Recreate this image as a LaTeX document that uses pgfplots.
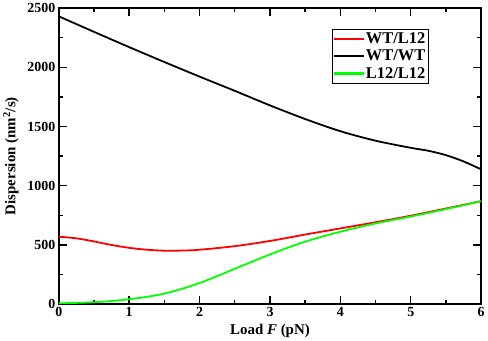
\documentclass[border=0pt]{standalone}
\usepackage{fontspec}
\setmainfont{Liberation Serif}
\usepackage{pgfplots}
\pgfplotsset{compat=1.18}
\definecolor{cRed}{RGB}{255,0,0}
\definecolor{cGreen}{RGB}{0,255,0}
\begin{document}
\begin{tikzpicture}
\begin{axis}[
  scale only axis, width=425pt, height=298pt,
  xmin=0, xmax=6, ymin=0, ymax=2500,
  xtick={0,1,...,6}, ytick={0,500,...,2500},
  minor x tick num=1, minor y tick num=1,
  tick align=inside,
  major tick length=8pt, minor tick length=4.5pt,
  axis line style={line width=1.6pt},
  every tick/.style={black, line width=1.4pt},
  tick label style={font=\fontsize{14}{15}\selectfont\bfseries},
  /pgf/number format/assume math mode=true,
  /pgf/number format/1000 sep={},
  xlabel={Load \textit{F} (pN)},
  ylabel={Dispersion (nm$^{\mathbf{2}}$/s)},
  label style={font=\fontsize{15}{17}\selectfont\bfseries},
  ylabel style={yshift=2pt},
  legend style={at={(0.647,0.93)}, anchor=north west,
    draw=black, line width=1.2pt,
    font=\fontsize{16.5}{16}\selectfont\bfseries,
    inner sep=1.5pt, row sep=1pt, cells={anchor=west}},
  legend image code/.code={\fill[#1, draw=none] (0pt,-1.2pt) rectangle (30pt,1.2pt);},
]
\addplot[color=cRed, line width=1.8pt, smooth, tension=0.6] coordinates {
  (0,570) (0.25,556) (0.5,530) (0.75,500) (1,476) (1.25,460) (1.5,452)
  (1.75,453) (2,460) (2.5,490) (3,534)
  (3.5,588) (4,640) (4.5,692) (5,747) (5.5,808) (6,870)};
\addlegendentry{WT/L12}
\addplot[color=black, line width=1.8pt, smooth, tension=0.5] coordinates {
  (0,2430) (0.5,2299) (1,2170) (1.5,2044) (2,1921) (2.5,1801) (3,1678)
  (3.5,1563) (4,1460) (4.5,1380) (5,1320) (5.25,1295) (5.5,1258) (5.75,1205) (6,1138)};
\addlegendentry{WT/WT}
\addplot[color=cGreen, line width=1.8pt, smooth, tension=0.6] coordinates {
  (0,8) (0.5,17) (1,42) (1.5,90) (2,179) (2.5,299) (3,420)
  (3.5,528) (4,612) (4.5,682) (5,740) (5.5,803) (6,870)};
\addlegendentry{L12/L12}
\end{axis}
\end{tikzpicture}
\end{document}
